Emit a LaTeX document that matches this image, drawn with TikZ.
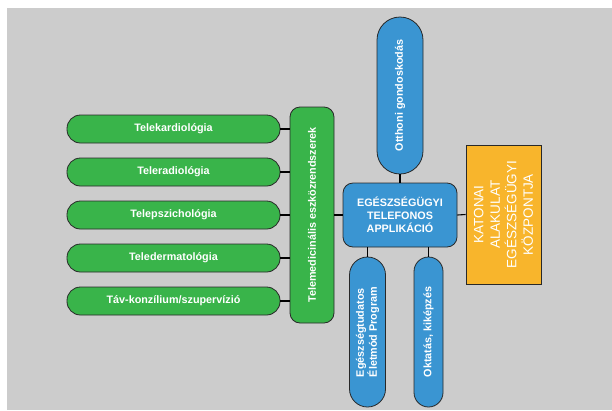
\documentclass[tikz,border=0pt]{standalone}
\usepackage{fontspec}
\setmainfont{Liberation Sans}
\usepackage{tikz}
\usetikzlibrary{shapes,arrows, positioning}
\definecolor{tgreen}{RGB}{57,180,74}
\definecolor{tblue}{RGB}{58,149,210}
\definecolor{torange}{RGB}{248,181,44}
\definecolor{tgray}{RGB}{204,204,204}
\definecolor{tedge}{RGB}{40,40,40}
\tikzstyle{box} = [draw=tedge, line width=0.8pt, text=white, inner sep=0pt, font=\bfseries\fontsize{10.8}{13}\selectfont]
\tikzstyle{gbox} = [box, fill=tgreen, rounded corners=13.5pt, minimum width=213pt, minimum height=28pt]
\tikzstyle{tallbox} = [box, fill=tgreen, rounded corners=10pt, rotate=90, minimum width=216pt, minimum height=44pt]
\tikzstyle{appbox} = [box, fill=tblue, rounded corners=10pt, minimum width=114pt, minimum height=64pt, align=center]
\tikzstyle{pill} = [box, fill=tblue, rotate=90]
\tikzstyle{katbox} = [draw=tedge, line width=0.8pt, fill=torange, text=white, rotate=90, minimum width=139pt, minimum height=75pt, align=center, font=\fontsize{13.5}{16.5}\selectfont]
\tikzstyle{line} = [draw, line width=1.1pt]

\begin{document}
\begin{tikzpicture}[x=1pt, y=-1pt]
				\useasboundingbox (0,0) rectangle (612,410);
				\fill [tgray] (7,8) rectangle (612,410);

				\node [gbox] (kard) at (173.5, 129) {Telekardiológia};
				\node [gbox] (rad) at (173.5, 172) {Teleradiológia};
				\node [gbox] (pszi) at (173.5, 215) {Telepszichológia};
				\node [gbox] (derm) at (173.5, 258) {Teledermatológia};
				\node [gbox] (konz) at (173.5, 301) {Táv-konzílium/szupervízió};
				\node [tallbox] (telemed) at (312, 215) {Telemedicinális eszközrendszerek};

				\node [appbox] (app) at (400, 215) {EGÉSZSÉGÜGYI\\TELEFONOS\\APPLIKÁCIÓ};
				\node [pill, rounded corners=23pt, minimum width=157pt, minimum height=46pt] (otthon) at (400, 95.5) {Otthoni gondoskodás};
				\node [pill, rounded corners=18pt, minimum width=150pt, minimum height=36pt, align=left] (eletmod) at (367.5, 332) {Egészségtudatos\\Életmód Program};
				\node [pill, rounded corners=14.5pt, minimum width=150pt, minimum height=29pt] (oktat) at (428.5, 332) {Oktatás, kiképzés};
				\node [katbox] (kat) at (503.5, 214.5) {KATONAI\\ALAKULAT\\EGÉSZSÉGÜGYI\\KÖZPONTJA};

				\path [line] (kard.east) -- (kard.east -| telemed.north);
				\path [line] (rad.east) -- (rad.east -| telemed.north);
				\path [line] (pszi.east) -- (pszi.east -| telemed.north);
				\path [line] (derm.east) -- (derm.east -| telemed.north);
				\path [line] (konz.east) -- (konz.east -| telemed.north);
				\path [line] (telemed.south) -- (app.west);
				\path [line] (otthon.west) -- (app.north);
				\path [line] (eletmod.east) -- (eletmod.east |- app.south);
				\path [line] (oktat.east) -- (oktat.east |- app.south);
				\path [line] (app.east) -- (kat.north);
			\end{tikzpicture}
\end{document}
